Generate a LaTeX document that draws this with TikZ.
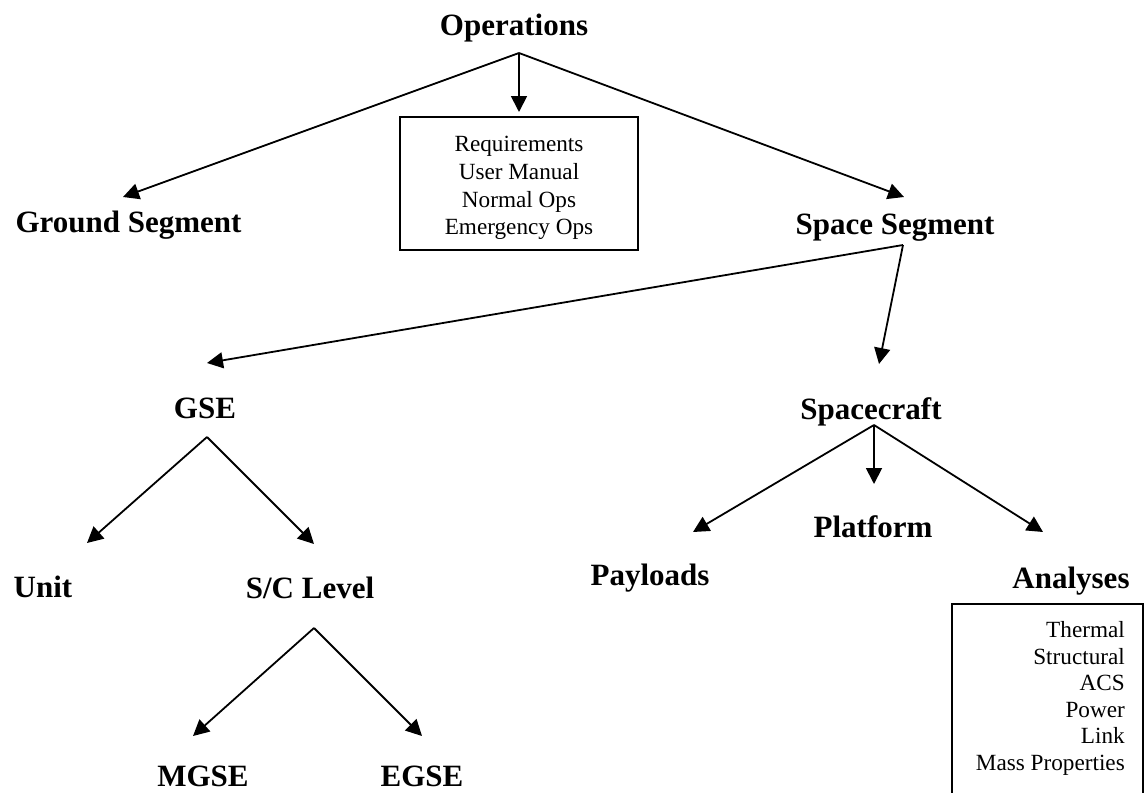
\documentclass[tikz,border=0pt]{standalone}
\usepackage{fontspec}
\setmainfont{Liberation Serif}
\usetikzlibrary{arrows.meta}
\begin{document}
\begin{tikzpicture}[x=1pt,y=-1pt,
  title/.style={font=\fontsize{31}{37}\selectfont\bfseries, inner sep=0pt, anchor=base},
  smalltxt/.style={font=\fontsize{23.2}{27.7}\selectfont, inner sep=0pt},
  arr/.style={line width=1.8pt, -{Triangle[length=16pt,width=16pt]}},
  boxstyle/.style={draw, line width=1.5pt, inner sep=0pt}]
\useasboundingbox[fill=white] (0,0) rectangle (1145,792);

% titles
\node[title] (ops) at (514,36) {Operations};
\node[title] (ground) at (128.5,232) {Ground Segment};
\node[title] (space) at (895,234) {Space Segment};
\node[title] (gse) at (205,418) {GSE};
\node[title] (sc) at (871,419) {Spacecraft};
\node[title] (unit) at (43,597) {Unit};
\node[title] (sclevel) at (310,598) {S/C Level};
\node[title] (payloads) at (650,585) {Payloads};
\node[title] (platform) at (873,537) {Platform};
\node[title] (analyses) at (1071,588) {Analyses};
\node[title] (mgse) at (203,786) {MGSE};
\node[title] (egse) at (422,786) {EGSE};

% boxes
\node[boxstyle, minimum width=238pt, minimum height=133pt] (reqbox) at (519,183.5) {};
\node[smalltxt, align=center, anchor=north] (reqtxt) at (519,136.3)
  {Requirements\\User Manual\\Normal Ops\\Emergency Ops};
\draw[line width=1.5pt] (952,810) |- (1143,604) -- (1143,810);
\node[smalltxt, align=right, anchor=north east, font=\fontsize{23.2}{26.6}\selectfont] (anatxt) at (1125,621.2)
  {Thermal\\Structural\\ACS\\Power\\Link\\Mass Properties};

% roots and tips
\coordinate (opsroot) at (519,53);
\coordinate (reqtip) at (519,112);
\coordinate (groundtip) at (123,197);
\coordinate (spacetip) at (904,197);
\coordinate (spaceroot) at (903,245);
\coordinate (gsetip) at (207,363);
\coordinate (sctip) at (879,364);
\coordinate (gseroot) at (207,437);
\coordinate (unittip) at (87,543);
\coordinate (scltip) at (314,544);
\coordinate (sclroot) at (314,628);
\coordinate (mgsetip) at (193,736);
\coordinate (egsetip) at (422,736);
\coordinate (scroot) at (874,425);
\coordinate (plattip) at (874,484);
\coordinate (paytip) at (693,532);
\coordinate (anatip) at (1043,532);

\draw[arr] (opsroot) -- (reqtip);
\draw[arr] (opsroot) -- (groundtip);
\draw[arr] (opsroot) -- (spacetip);
\draw[arr] (spaceroot) -- (gsetip);
\draw[arr] (spaceroot) -- (sctip);
\draw[arr] (gseroot) -- (unittip);
\draw[arr] (gseroot) -- (scltip);
\draw[arr] (sclroot) -- (mgsetip);
\draw[arr] (sclroot) -- (egsetip);
\draw[arr] (scroot) -- (plattip);
\draw[arr] (scroot) -- (paytip);
\draw[arr] (scroot) -- (anatip);
\end{tikzpicture}
\end{document}
